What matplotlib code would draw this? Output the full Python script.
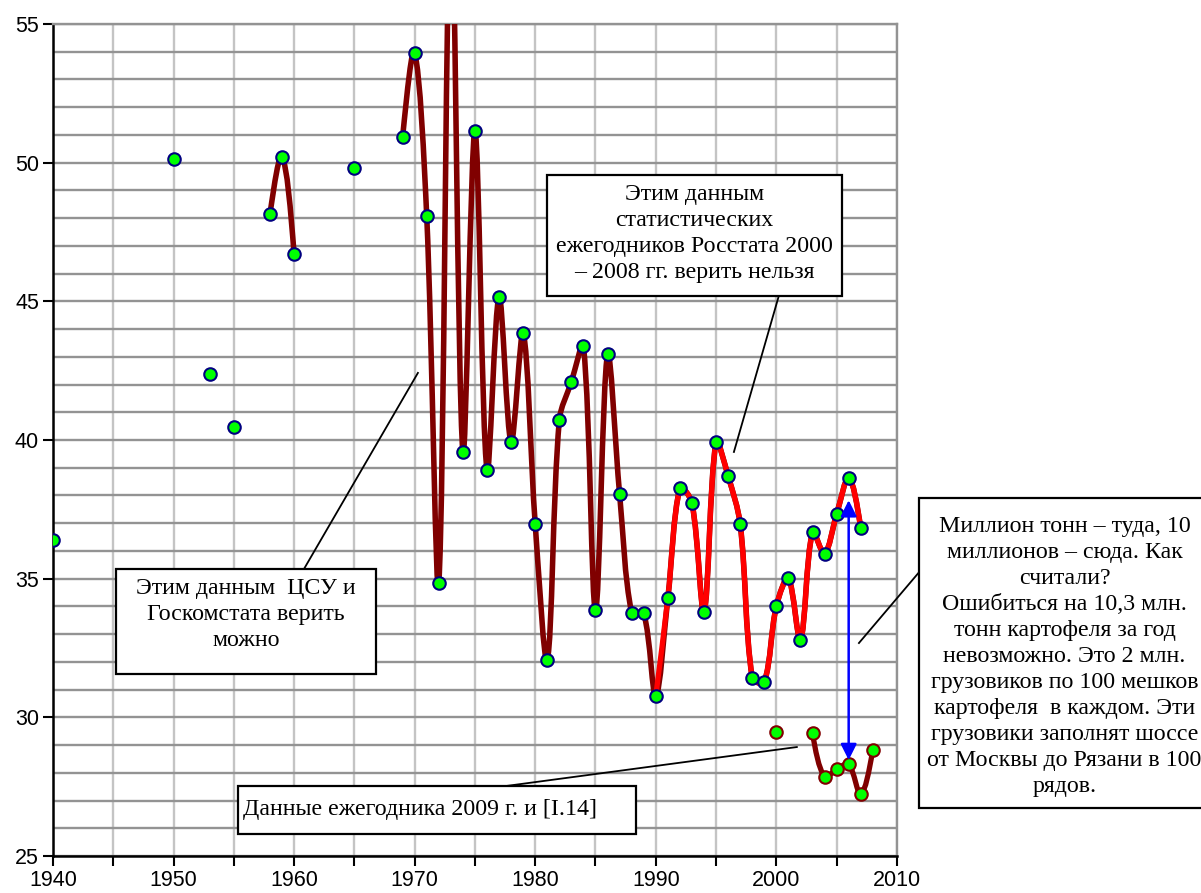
import numpy as np
import matplotlib
matplotlib.use('Agg')
import matplotlib.pyplot as plt
from matplotlib.path import Path
from matplotlib.patches import PathPatch, Rectangle

# potato harvest, million tonnes
years = [1940, 1950, 1953, 1955, 1958, 1959, 1960, 1965,
         1969, 1970, 1971, 1972, 1973, 1974, 1975, 1976, 1977, 1978, 1979,
         1980, 1981, 1982, 1983, 1984, 1985, 1986, 1987, 1988, 1989,
         1990, 1991, 1992, 1993, 1994, 1995, 1996, 1997, 1998, 1999,
         2000, 2001, 2002, 2003, 2004, 2005, 2006, 2007]
values = [36.39, 50.13, 42.38, 40.47, 48.15, 50.2, 46.71, 49.81,
          50.92, 53.95, 48.08, 34.84, 60.0, 39.57, 51.14, 38.92, 45.16, 39.93, 43.86,
          36.97, 32.06, 40.72, 42.1, 43.4, 33.87, 43.1, 38.05, 33.76, 33.76,
          30.77, 34.3, 38.27, 37.73, 33.8, 39.93, 38.7, 36.97, 31.42, 31.27,
          34.01, 35.02, 32.79, 36.68, 35.9, 37.33, 38.63, 36.83]
red_from = 1990

# yearbook 2009 and [I.14]
years2 = [2000, 2003, 2004, 2005, 2006, 2007, 2008]
values2 = [29.47, 29.43, 27.85, 28.13, 28.31, 27.23, 28.82]

xticks = [1940, 1950, 1960, 1970, 1980, 1990, 2000, 2010]
yticks = [25, 30, 35, 40, 45, 50, 55]

DARKRED = '#800000'
GREEN = '#00FF00'
NAVY = '#000080'
serif = 'Liberation Serif'


def runs(xs, ys):
    # split into runs of consecutive years (gaps break the line)
    out = []
    cur_x, cur_y = [xs[0]], [ys[0]]
    for x, y in zip(xs[1:], ys[1:]):
        if x - cur_x[-1] == 1:
            cur_x.append(x)
            cur_y.append(y)
        else:
            out.append((cur_x, cur_y))
            cur_x, cur_y = [x], [y]
    out.append((cur_x, cur_y))
    return out


def smooth_path(ax, xs, ys):
    # Excel-like smoothed line, control points worked out in screen space
    P = ax.transData.transform(np.column_stack([xs, ys]).astype(float))
    n = len(P)
    c_in = [None] * n
    c_out = [None] * n
    for i in range(1, n - 1):
        d0 = np.hypot(*(P[i] - P[i - 1]))
        d1 = np.hypot(*(P[i + 1] - P[i]))
        t = P[i + 1] - P[i - 1]
        c_out[i] = P[i] + t * d1 / (d0 + d1) / 3.0
        c_in[i] = P[i] - t * d0 / (d0 + d1) / 3.0
    if n == 2:
        c_out[0] = P[0] + (P[1] - P[0]) / 3.0
        c_in[1] = P[1] - (P[1] - P[0]) / 3.0
    else:
        c_out[0] = P[0] + (c_in[1] - P[0]) * 0.5
        c_in[n - 1] = P[n - 1] + (c_out[n - 2] - P[n - 1]) * 0.5
    verts = [P[0]]
    codes = [Path.MOVETO]
    for i in range(n - 1):
        verts += [c_out[i], c_in[i + 1], P[i + 1]]
        codes += [Path.CURVE4] * 3
    verts = ax.transData.inverted().transform(np.array(verts))
    return Path(verts, codes)


def draw_smooth(ax, xs, ys, color, lw, z):
    for rx, ry in runs(xs, ys):
        if len(rx) > 1:
            ax.add_patch(PathPatch(smooth_path(ax, rx, ry), facecolor='none', edgecolor=color,
                                   lw=lw, capstyle='round', joinstyle='round', zorder=z))


fig = plt.figure(figsize=(12.01, 8.93), dpi=100)
ax = fig.add_axes([0.0441, 0.0414, 0.7027, 0.9317])
ax.set_xlim(1940, 2010)
ax.set_ylim(25, 55)

ax.set_xticks(xticks)
ax.set_xticks(np.arange(1945, 2010, 10), minor=True)
ax.set_yticks(yticks)
ax.set_yticks(np.arange(25, 56, 1), minor=True)
ax.grid(True, axis='x', which='both', color='#c4c4c4', lw=1.7, zorder=0)
ax.grid(True, axis='y', which='both', color='#939393', lw=1.7, zorder=0)
ax.tick_params(axis='both', which='major', direction='out', length=7, width=1.5,
               labelsize=15.5, pad=3)
ax.tick_params(axis='x', which='minor', direction='out', length=7, width=1.5)
ax.tick_params(axis='y', which='minor', length=0)
for lab in ax.get_xticklabels() + ax.get_yticklabels():
    lab.set_fontfamily('Liberation Sans')
for s in ['left', 'bottom']:
    ax.spines[s].set_linewidth(1.8)
ax.spines['top'].set_color('#939393')
ax.spines['right'].set_color('#939393')
ax.spines['top'].set_linewidth(1.7)
ax.spines['right'].set_linewidth(1.7)

# main series
draw_smooth(ax, years, values, DARKRED, 4.0, 3)
ry = [y for y in years if y >= red_from]
rv = [v for y, v in zip(years, values) if y >= red_from]
draw_smooth(ax, ry, rv, 'red', 3.8, 4)
ax.plot(years, values, ls='none', marker='o', ms=9, mfc=GREEN, mec=NAVY, mew=1.5, zorder=6)

# yearbook 2009 series
draw_smooth(ax, years2, values2, DARKRED, 3.8, 3)
ax.plot(years2, values2, ls='none', marker='o', ms=9, mfc=GREEN, mec=DARKRED, mew=1.5, zorder=6)

# blue double arrow at 2006
ax.annotate('', xy=(2006, 28.46), xytext=(2006, 37.83),
            arrowprops=dict(arrowstyle='<|-|>', color='blue', lw=1.8, mutation_scale=24,
                            shrinkA=0, shrinkB=0), zorder=7)


def callout(x0, y0, x1, y1, text, tx, ty, line_from, line_to, ha='center', size=17.2, ls=1.31):
    ax.add_patch(Rectangle((x0, y0), x1 - x0, y1 - y0, facecolor='white', edgecolor='black',
                           lw=1.6, clip_on=False, zorder=8))
    ax.text(tx, ty, text, ha=ha, va='center', fontsize=size, family=serif,
            linespacing=ls, zorder=9, clip_on=False)
    ax.plot([line_from[0], line_to[0]], [line_from[1], line_to[1]], color='black', lw=1.3,
            clip_on=False, zorder=7)


callout(1945.23, 31.56, 1966.79, 35.35, 'Этим данным  ЦСУ и\nГоскомстата верить\nможно',
        1956.0, 33.7, (1960.82, 35.35), (1970.27, 42.42))
callout(1980.97, 45.19, 2005.44, 49.55, 'Этим данным\nстатистических\nежегодников Росстата 2000\n– 2008 гг. верить нельзя',
        1993.2, 47.45, (2000.2, 45.19), (1996.48, 39.57))
callout(2011.85, 26.73, 2035.6, 37.91,
        'Миллион тонн – туда, 10\nмиллионов – сюда. Как\nсчитали?\nОшибиться на 10,3 млн.\n'
        'тонн картофеля за год\nневозможно. Это 2 млн.\nгрузовиков по 100 мешков\n'
        'картофеля  в каждом. Эти\nгрузовики заполнят шоссе\nот Москвы до Рязани в 100\nрядов.',
        2023.9, 32.2, (2011.85, 35.24), (2006.85, 32.68))
callout(1955.35, 25.79, 1988.4, 27.52, 'Данные ежегодника 2009 г. и [I.14]',
        1955.75, 26.68, (1977.5, 27.52), (2001.7, 28.93), ha='left')

fig.savefig('out.png', dpi=100)
